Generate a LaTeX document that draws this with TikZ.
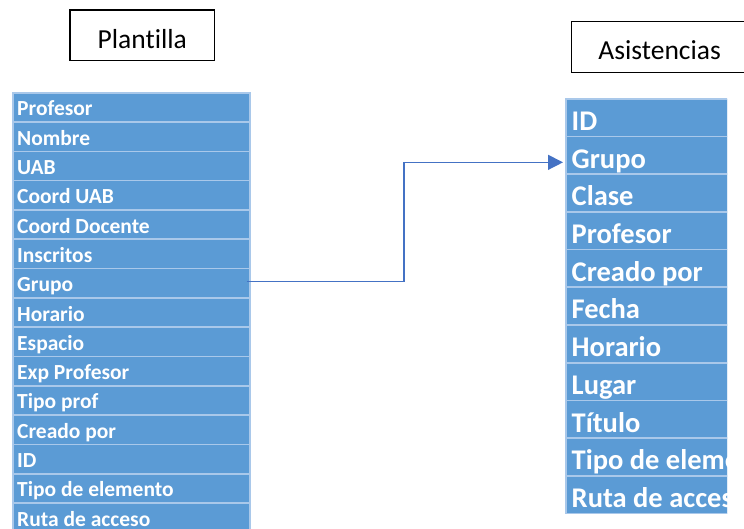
\documentclass[tikz,border=0pt]{standalone}
\usepackage{fontspec}
\setmainfont{Carlito}[Ligatures=NoCommon]
\usetikzlibrary{arrows.meta,calc}
\definecolor{cellblue}{HTML}{5B9BD5}
\definecolor{cellline}{HTML}{A9C8EA}
\definecolor{linkblue}{HTML}{4472C4}
\begin{document}
\begin{tikzpicture}[x=1pt,y=-1pt,
  titlebox/.style={draw=black,line width=1.3pt,minimum height=50.7pt,anchor=north west,
    inner sep=0pt,text height=26pt,text depth=0pt,font=\fontsize{27.5}{30}\selectfont},
  cellL/.style={fill=cellblue,draw=cellline,line width=1.6pt,minimum width=237pt,
    minimum height=29.3pt,anchor=north west,inner sep=0pt},
  cellR/.style={fill=cellblue,draw=cellline,line width=1.6pt,minimum width=162pt,
    minimum height=37.7pt,anchor=north west,inner sep=0pt},
  txtL/.style={anchor=base west,inner sep=0pt,text=white,font=\fontsize{21.5}{25}\selectfont\bfseries},
  txtR/.style={anchor=base west,inner sep=0pt,text=white,font=\fontsize{28.5}{32}\selectfont\bfseries},
  link/.style={draw=linkblue,line width=1.3pt,-{Triangle[length=15pt,width=15pt]}}
]
\useasboundingbox (0,0) rectangle (744,529);

% table titles
\node[titlebox,minimum width=144.7pt] (tplant) at (69.3,9.3) {Plantilla};
\node[titlebox,minimum width=176pt] (tasis) at (571,21) {Asistencias};

% left table: Plantilla
\foreach \t [count=\i from 0] in {Profesor,Nombre,UAB,Coord UAB,Coord Docente,Inscritos,Grupo,Horario,Espacio,Exp Profesor,Tipo prof,Creado por,ID,Tipo de elemento,Ruta de acceso}{
  \node[cellL] (l\i) at (12,92+\i*29.3) {};
  \node[txtL] (lt\i) at ($(l\i.south west)+(5,-7)$) {\t};
}

% right table: Asistencias (text cut at the table edge)
\begin{scope}
\clip (560,90) rectangle (727,520);
\foreach \t [count=\i from 0] in {ID,Grupo,Clase,Profesor,Creado por,Fecha,Horario,Lugar,Título,Tipo de elemento,Ruta de acceso}{
  \node[cellR] (r\i) at (565,98+\i*37.7) {};
  \node[txtR] (rt\i) at ($(r\i.south west)+(6.5,-6.8)$) {\t};
}
\end{scope}

% link Grupo -> Grupo
\coordinate (lsrc) at ($(l6.east)+(-4,-1.5)$);
\coordinate (rdst) at ($(r1.west)+(-2,7)$);
\coordinate (bendx) at (404,0);
\draw[link] (lsrc) -| (bendx |- rdst) -- (rdst);
\end{tikzpicture}
\end{document}
